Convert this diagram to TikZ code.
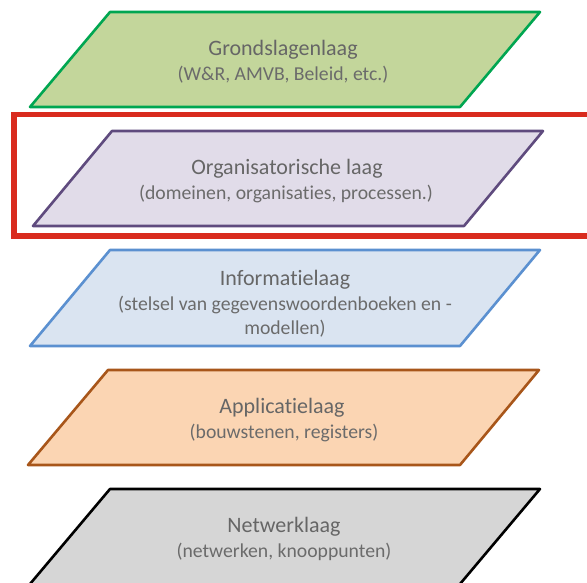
\documentclass[tikz,border=0pt]{standalone}
\usepackage{fontspec}
\setmainfont{Carlito}[Ligatures=NoCommon]
\tikzset{
  layer/.style={line width=2.6pt,line join=round},
  title/.style={font=\fontsize{22}{25}\selectfont,text=black!60,align=center,anchor=center,inner sep=0pt},
  sub/.style={font=\fontsize{19.7}{24.5}\selectfont,text=black!58,align=center,anchor=center,inner sep=0pt}
}
\definecolor{gfill}{HTML}{C3D69B}\definecolor{gline}{HTML}{00A651}
\definecolor{ofill}{HTML}{E1DCE9}\definecolor{oline}{HTML}{5F4B7E}
\definecolor{ifill}{HTML}{DAE4F1}\definecolor{iline}{HTML}{5B90D0}
\definecolor{afill}{HTML}{FBD5B3}\definecolor{aline}{HTML}{A8561A}
\definecolor{nfill}{HTML}{D6D6D6}\definecolor{redbox}{HTML}{D92B1E}
\begin{document}
\begin{tikzpicture}[x=1pt,y=-1pt]
\useasboundingbox (0,0) rectangle (587,582);
\clip (0,0) rectangle (587,582);
\fill[white] (0,0) rectangle (587,582);
\draw[layer,draw=gline,fill=gfill] (110,12) -- (540,12) -- (460,107) -- (30,107) -- cycle;
\draw[line width=5.5pt,draw=redbox] (14,114.5) -- (600,114.5) (600,236) -- (14,236) -- (14,111.75);
\draw[layer,draw=oline,fill=ofill] (112,131) -- (543,131) -- (464,226) -- (33,226) -- cycle;
\draw[layer,draw=iline,fill=ifill] (110,250) -- (540,250) -- (460,346) -- (30,346) -- cycle;
\draw[layer,draw=aline,fill=afill] (108,370) -- (539,370) -- (460,465) -- (28,465) -- cycle;
\draw[layer,draw=black,fill=nfill] (110,489) -- (540,489) -- (460,584) -- (460,600) -- (30,600) -- (30,584) -- cycle;
\node[title] (t1) at (283,50) {Grondslagenlaag};
\node[sub] (s1) at (283,75) {(W\&R, AMVB, Beleid, etc.)};
\node[title] (t2) at (287,169) {Organisatorische laag};
\node[sub] (s2) at (286,194) {(domeinen, organisaties, processen.)};
\node[title] (t3) at (285,280) {Informatielaag};
\node[sub] (s3) at (285,316.5) {(stelsel van gegevenswoordenboeken en -\\modellen)};
\node[title] (t4) at (282,408) {Applicatielaag};
\node[sub] (s4) at (284,433) {(bouwstenen, registers)};
\node[title] (t5) at (284,527) {Netwerklaag};
\node[sub] (s5) at (284,552) {(netwerken, knooppunten)};
\end{tikzpicture}
\end{document}
